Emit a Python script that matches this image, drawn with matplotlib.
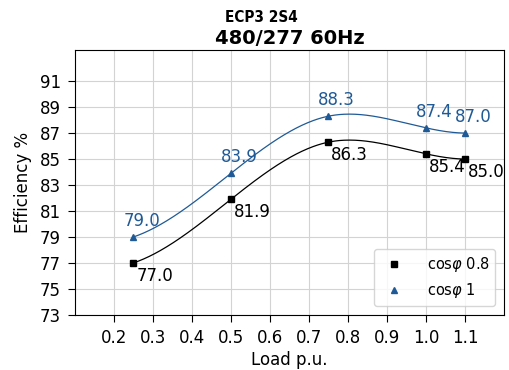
import numpy as np
import matplotlib
matplotlib.use("Agg")
import matplotlib.pyplot as plt

load = [0.25, 0.5, 0.75, 1.0, 1.1]
eff_08 = [77.0, 81.9, 86.3, 85.4, 85.0]
eff_10 = [79.0, 83.9, 88.3, 87.4, 87.0]
yticks = [73, 75, 77, 79, 81, 83, 85, 87, 89, 91]
xticks = [0.2, 0.3, 0.4, 0.5, 0.6, 0.7, 0.8, 0.9, 1.0, 1.1]


def spline_not_a_knot(x, y, xs):
    x = np.asarray(x, float); y = np.asarray(y, float)
    n = len(x) - 1
    A = np.zeros((4 * n, 4 * n)); b = np.zeros(4 * n)
    r = 0
    for i in range(n):
        for xx, yy in ((x[i], y[i]), (x[i + 1], y[i + 1])):
            d = xx - x[i]
            A[r, 4 * i:4 * i + 4] = [1, d, d ** 2, d ** 3]; b[r] = yy; r += 1
    for i in range(n - 1):
        h = x[i + 1] - x[i]
        A[r, 4 * i:4 * i + 4] = [0, 1, 2 * h, 3 * h ** 2]; A[r, 4 * (i + 1) + 1] = -1; r += 1
        A[r, 4 * i:4 * i + 4] = [0, 0, 2, 6 * h]; A[r, 4 * (i + 1) + 2] = -2; r += 1
    for i in (0, n - 2):
        A[r, 4 * i + 3] = 6; A[r, 4 * (i + 1) + 3] = -6; r += 1
    c = np.linalg.solve(A, b)
    out = np.empty_like(xs)
    for k, xv in enumerate(xs):
        i = min(max(np.searchsorted(x, xv) - 1, 0), n - 1)
        d = xv - x[i]
        out[k] = c[4 * i] + c[4 * i + 1] * d + c[4 * i + 2] * d ** 2 + c[4 * i + 3] * d ** 3
    return out


fig = plt.figure(figsize=(5.1, 3.7), dpi=100)
ax = fig.add_axes([0.147, 0.149, 0.841, 0.716])

xs = np.linspace(min(load), max(load), 300)
blue = "#1f5a96"
ax.plot(xs, spline_not_a_knot(load, eff_08, xs), color="black", lw=0.9)
ax.plot(xs, spline_not_a_knot(load, eff_10, xs), color=blue, lw=0.9)
ax.plot(load, eff_08, "s", color="black", ms=5, ls="none", label=r"cos$\varphi$ 0.8")
ax.plot(load, eff_10, "^", color=blue, ms=5, ls="none", label=r"cos$\varphi$ 1")

for x, y in zip(load, eff_08):
    ax.annotate(f"{y:.1f}", (x, y), xytext=(2, -3), textcoords="offset points",
                ha="left", va="top", fontsize=12, color="black")
for x, y in zip(load, eff_10):
    ax.annotate(f"{y:.1f}", (x, y), xytext=(6, 5), textcoords="offset points",
                ha="center", va="bottom", fontsize=12, color=blue)

ax.set_xlim(0.1, 1.2)
ax.set_ylim(73, 93.4)
ax.set_xticks(xticks)
ax.set_yticks(yticks)
ax.tick_params(labelsize=12, length=5, pad=5)
ax.grid(True, color="#d3d3d3", lw=0.8)
ax.set_axisbelow(True)
ax.set_xlabel("Load p.u.", fontsize=12, labelpad=3)
ax.set_ylabel("Efficiency %", fontsize=12, labelpad=6)
ax.set_title("480/277 60Hz", fontsize=14, fontweight="bold", pad=4)
fig.text(0.512, 0.953, "ECP3 2S4", ha="center", va="center", fontsize=11,
         fontweight="bold", family="DejaVu Sans", fontstretch="condensed")
ax.legend(loc="lower right", fontsize=10.5, handletextpad=1.2, framealpha=0.8,
          borderaxespad=0.6)

fig.savefig("out.png", dpi=100)
